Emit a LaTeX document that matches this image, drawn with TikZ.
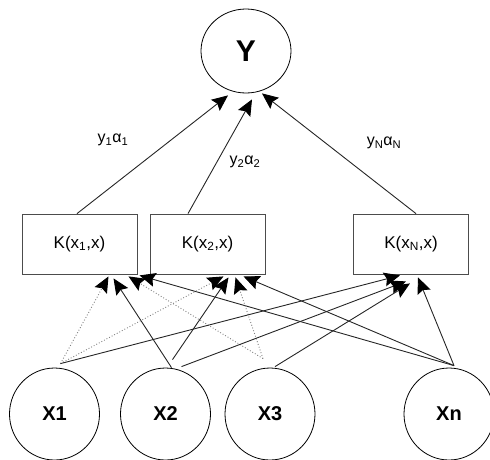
\documentclass[tikz,border=0pt]{standalone}
\usepackage{fontspec}
\setmainfont{Liberation Sans}
\usetikzlibrary{shapes.geometric,arrows.meta}
\begin{document}
\begin{tikzpicture}[x=1pt,y=-1pt,
  inunit/.style={draw, ellipse, line width=0.8pt, minimum width=90pt, minimum height=92pt,
    inner sep=0pt, font=\fontsize{20}{24}\selectfont\bfseries},
  outunit/.style={draw, ellipse, line width=0.8pt, minimum width=90pt, minimum height=84pt,
    inner sep=0pt, font=\fontsize{30}{34}\selectfont\bfseries},
  kernel/.style={draw=black!70, rectangle, line width=0.8pt, minimum width=115pt,
    minimum height=60pt, inner sep=0pt, font=\fontsize{17}{20}\selectfont},
  conn/.style={line width=0.9pt, draw=black!85,
    -{Stealth[length=16pt,width=14pt,inset=2.5pt,color=black]}},
  conndot/.style={conn, dotted, draw=black!50},
  wlabel/.style={font=\fontsize{16}{19}\selectfont}
]
\useasboundingbox (0,0) rectangle (490,459);

% output unit
\node[outunit] (Y) at (246,51) {Y};

% kernel units
\node[kernel] (K1) at (79.5,244) {K(x\textsubscript{1},x)};
\node[kernel] (K2) at (207.5,244) {K(x\textsubscript{2},x)};
\node[kernel] (KN) at (411,244) {K(x\textsubscript{N},x)};

% input units
\node[inunit] (X1) at (54.5,414) {X1};
\node[inunit] (X2) at (165.5,414) {X2};
\node[inunit] (X3) at (270,414) {X3};
\node[inunit] (Xn) at (449,414) {Xn};

% weighted outputs
\draw[conn] ([xshift=-2.5pt]K1.north) -- ([shift={(-18pt,-2pt)}]Y.south);
\draw[conn] ([xshift=-19.5pt]K2.north) -- ([shift={(6pt,-6pt)}]Y.south);
\draw[conn] ([xshift=5pt]KN.north) -- ([shift={(16pt,0pt)}]Y.south);

\node[wlabel] (l1) at (113,140) {y\textsubscript{1}α\textsubscript{1}};
\node[wlabel] (l2) at (245,162) {y\textsubscript{2}α\textsubscript{2}};
\node[wlabel] (lN) at (384,143) {y\textsubscript{N}α\textsubscript{N}};

% inputs to K(x1,x)
\draw[conndot] ([shift={(6pt,4pt)}]X1.north) -- ([shift={(29pt,-2pt)}]K1.south);
\draw[conn]    ([shift={(6pt,0pt)}]X2.north) -- ([shift={(34pt,-4pt)}]K1.south);
\draw[conndot] ([shift={(-7pt,9pt)}]X3.north) -- ([shift={(49pt,-2pt)}]K1.south);
\draw[conn]    ([shift={(5pt,2pt)}]Xn.north) -- ([shift={(60pt,-1pt)}]K1.south);

% inputs to K(x2,x)
\draw[conndot] ([shift={(6pt,4pt)}]X1.north) -- ([shift={(16pt,-2pt)}]K2.south);
\draw[conn]    ([shift={(7pt,8pt)}]X2.north) -- ([shift={(21pt,-3pt)}]K2.south);
\draw[conndot] ([shift={(-7pt,9pt)}]X3.north) -- ([shift={(28pt,-3pt)}]K2.south);
\draw[conn]    ([shift={(5pt,2pt)}]Xn.north) -- ([shift={(36pt,-2pt)}]K2.south);

% inputs to K(xN,x)
\draw[conn] ([shift={(6pt,4pt)}]X1.north) -- ([shift={(-11pt,-1pt)}]KN.south);
\draw[conn] ([shift={(16pt,1pt)}]X2.north) -- ([shift={(-5pt,-7pt)}]KN.south);
\draw[conn] ([shift={(5pt,1pt)}]X3.north) -- ([shift={(-1pt,-9pt)}]KN.south);
\draw[conn] ([shift={(5pt,2pt)}]Xn.north) -- ([shift={(7pt,-3pt)}]KN.south);
\end{tikzpicture}
\end{document}
